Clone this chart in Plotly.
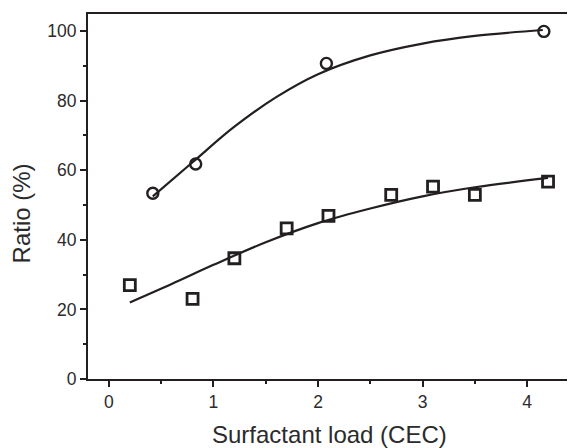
import plotly.graph_objects as go

# measured points
circle_x = [0.42, 0.83, 2.08, 4.16]
circle_y = [53.4, 61.8, 90.7, 99.9]
square_x = [0.20, 0.80, 1.20, 1.70, 2.10, 2.70, 3.10, 3.50, 4.20]
square_y = [27.0, 23.0, 34.7, 43.3, 46.9, 52.9, 55.3, 52.9, 56.7]

# fitted curves
circle_fit_x = [0.42, 0.8, 1.2, 1.6, 2.0, 2.5, 3.0, 3.5, 4.15]
circle_fit_y = [52.5, 62.3, 72.5, 81.0, 87.6, 93.0, 96.4, 98.6, 100.3]
square_fit_x = [0.2, 0.6, 1.0, 1.5, 2.0, 2.5, 3.0, 3.5, 4.2]
square_fit_y = [22.0, 27.3, 32.8, 39.3, 44.8, 49.0, 52.5, 55.1, 57.8]

x_ticks = [0, 1, 2, 3, 4]
y_ticks = [0, 20, 40, 60, 80, 100]
x_title = "Surfactant load (CEC)"
y_title = "Ratio (%)"

ink = "#231f20"
txt = "#2b2b2b"
font = "Liberation Sans, Arial, sans-serif"

fig = go.Figure()
fig.add_trace(go.Scatter(x=circle_fit_x, y=circle_fit_y, mode="lines",
                         line=dict(color=ink, width=2.2, shape="spline", smoothing=1.0), showlegend=False))
fig.add_trace(go.Scatter(x=square_fit_x, y=square_fit_y, mode="lines",
                         line=dict(color=ink, width=2.2, shape="spline", smoothing=1.0), showlegend=False))
fig.add_trace(go.Scatter(x=circle_x, y=circle_y, mode="markers",
                         marker=dict(symbol="circle-open", size=11, color=ink,
                                     line=dict(width=2.4, color=ink)), showlegend=False))
fig.add_trace(go.Scatter(x=square_x, y=square_y, mode="markers",
                         marker=dict(symbol="square-open", size=11, color=ink,
                                     line=dict(width=2.8, color=ink)), showlegend=False))

axis_common = dict(showgrid=False, zeroline=False, showline=True, linecolor=ink, linewidth=2.2,
                   mirror=True, ticks="outside", tickcolor=ink, tickwidth=2, ticklen=6,
                   tickfont=dict(family=font, size=17.5, color=txt))

fig.update_xaxes(range=[-0.2, 4.41], tickvals=x_ticks, ticktext=[str(v) for v in x_ticks],
                 minor=dict(dtick=0.5, tick0=0, ticks="outside", ticklen=3, tickwidth=2, tickcolor=ink),
                 **axis_common)
fig.update_yaxes(range=[0, 104.9], tickvals=y_ticks, ticktext=[str(v) for v in y_ticks],
                 minor=dict(dtick=10, tick0=0, ticks="outside", ticklen=3, tickwidth=2, tickcolor=ink),
                 **axis_common)

fig.add_annotation(text=x_title, xref="paper", yref="paper", x=0.5, y=-0.1534,
                   xanchor="center", yanchor="middle", showarrow=False,
                   font=dict(family=font, size=24, color=txt))
fig.add_annotation(text=y_title, xref="paper", yref="paper", x=-0.136, y=0.4548,
                   xanchor="center", yanchor="middle", textangle=-90, showarrow=False,
                   font=dict(family=font, size=24, color=txt))

fig.update_layout(width=567, height=440, margin=dict(l=80, r=3, t=6, b=69),
                  plot_bgcolor="white", paper_bgcolor="white", showlegend=False)

fig.write_html("out.html")
